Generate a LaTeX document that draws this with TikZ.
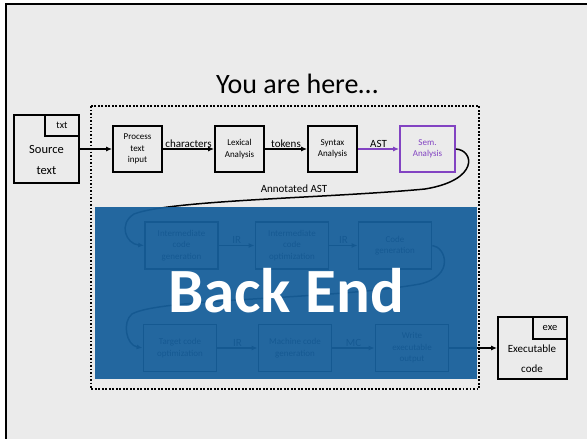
\documentclass[tikz,border=0pt]{standalone}
\usepackage{fontspec}
\setmainfont{Carlito}
\usetikzlibrary{arrows.meta}
\definecolor{slidebg}{HTML}{EBEBEB}
\definecolor{sempurple}{HTML}{8243C2}
\definecolor{backblue}{HTML}{175F9B}
\tikzset{
  fsz/.style={font=\fontsize{#1}{#1}\selectfont},
  stage/.style={draw, line width=1.7pt, minimum width=49, minimum height=46,
    align=center, inner sep=0pt, font=\fontsize{9}{11.5}\selectfont},
  bestage/.style={draw, line width=1.7pt, minimum width=73, minimum height=47,
    align=center, inner sep=0pt, font=\fontsize{9}{11.5}\selectfont},
  flow/.style={line width=1.5pt, -{Latex[length=6pt,width=5pt]}},
  lbl/.style={font=\fontsize{11}{11}\selectfont, inner sep=1pt},
  filebox/.style={draw, line width=1.8pt, inner sep=0pt},
}
\begin{document}
\begin{tikzpicture}[x=1pt,y=-1pt]
\useasboundingbox (0,0) rectangle (587,439);
% slide background and frame
\fill[white] (0,0) rectangle (587,439);
\fill[slidebg] (6,4) rectangle (587,439);
\draw[line width=2.5pt] (6,439) -- (6,4) -- (587,4);

% title
\node[fsz=28] (title) at (297,84) {You are here…};

% source file
\node[filebox, minimum width=65, minimum height=68] (src) at (46.5,149) {};
\node[filebox, minimum width=34, minimum height=21, anchor=north east, fsz=10] (srctab) at (src.north east) {txt};
\node[fsz=12.5] (srcl1) at (46.5,149) {Source};
\node[fsz=12.5] (srcl2) at (46.5,171) {text};

% front end
\node[stage] (proc) at (137.5,149) {Process\\text\\input};
\node[stage] (lex) at (239.5,149) {Lexical\\Analysis};
\node[stage] (syn) at (332.5,149) {Syntax\\Analysis};
\node[stage, draw=sempurple, text=sempurple, minimum width=55] (sem) at (427.5,149) {Sem.\\Analysis};

\draw[flow] (src.east) -- (proc.west);
\draw[flow] (proc.east) -- node[lbl, above] {characters} (lex.west);
\draw[flow] (lex.east) -- node[lbl, above] {tokens} (syn.west);
\draw[flow, sempurple] (syn.east) -- node[lbl, above, text=black] {AST} (sem.west);

% back end stages
\node[bestage] (icg) at (181.5,245.5) {Intermediate\\code\\generation};
\node[bestage] (ico) at (292,245.5) {Intermediate\\code\\optimization};
\node[bestage] (cg) at (395,245.5) {Code\\generation};
\node[bestage] (tco) at (180,348) {Target code\\optimization};
\node[bestage] (mcg) at (295,348) {Machine code\\generation};
\node[bestage] (wex) at (412,348) {Write\\executable\\output};

\draw[flow] (icg.east) -- node[lbl, above] {IR} (ico.west);
\draw[flow] (ico.east) -- node[lbl, above] {IR} (cg.west);
\draw[flow] (tco.east) -- node[lbl, above] {IR} (mcg.west);
\draw[flow] (mcg.east) -- node[lbl, above] {MC} (wex.west);
\draw[flow] (cg.east) .. controls (446,247) and (455,276) .. (420,284)
  .. controls (330,300) and (160,298) .. (132,314)
  .. controls (122,322) and (126,345) .. (tco.west);

% executable file
\node[filebox, minimum width=69, minimum height=62] (exe) at (532.5,348) {};
\node[filebox, minimum width=34, minimum height=22, anchor=north east, fsz=10.5] (exetab) at (exe.north east) {exe};
\node[fsz=11] (exel1) at (532,349) {Executable};
\node[fsz=11] (exel2) at (532,369) {code};
\draw[flow] (wex.east) -- (exe.west);

% annotated AST hand-off into the back end
\draw[flow] (sem.east) .. controls (474,150) and (480,180) .. (425,189)
  .. controls (330,198) and (170,200) .. (134,214)
  .. controls (118,224) and (126,244) .. (icg.west);
\node[lbl] (aast) at (294,189) {Annotated AST};

% back end cover
\fill[backblue, fill opacity=0.94] (95,207) rectangle (477,379);
\node[text=white, font=\fontsize{63}{63}\selectfont\bfseries] (backend) at (286,291) {Back End};

% dotted frame around the compiler
\draw[line width=1.8pt, dash pattern=on 1.8pt off 1.7pt] (91,106) rectangle (479,389);
\end{tikzpicture}
\end{document}
